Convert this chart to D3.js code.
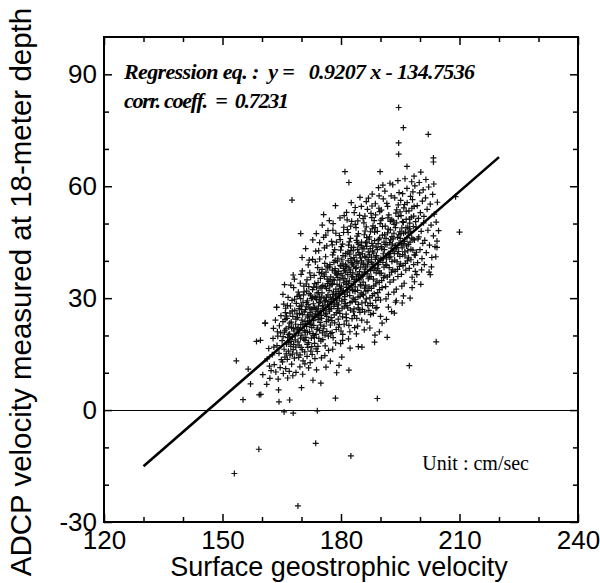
<!DOCTYPE html>
<html>
<head>
<meta charset="utf-8">
<script src="https://cdn.jsdelivr.net/npm/d3@7"></script>
<style>
  body { margin: 0; background: #fff; }
  svg { display: block; }
  .tick text { font-family: "Liberation Sans", Arial, sans-serif; font-size: 26px; fill: #000; }
  .tick line { stroke: #000; stroke-width: 1.5; }
  .domain { display: none; }
</style>
</head>
<body>
<div id="chart"></div>
<script>
// regression printed on the chart
const slope = 0.9207;
const intercept = -134.7536;
const corrCoeff = 0.7231;
const fitRange = [130, 220];

const xMajor = [120, 150, 180, 210, 240];
const yMajor = [-30, 0, 30, 60, 90];
const xMinor = [130, 140, 160, 170, 190, 200, 220, 230];
const yMinor = [-20, -10, 10, 20, 40, 50, 70, 80];

// [surface geostrophic velocity, ADCP velocity at 18 m]
const outliers = [
  [153.5,13.2],[153.0,-17.0],[159.2,-10.5],[169.1,-25.7],[173.6,-8.9],[182.5,-12.3],[189.2,3.1],[178.6,3.2],
  [197.3,11.9],[204.1,18.3],[194.6,81.1],[195.8,75.7],[194.6,71.6],[202.1,73.9],[203.4,67.6],[203.4,66.5],
  [194.6,68.6],[196.7,65.3],[200.2,63.8],[198.5,62.7],[167.6,56.3],[181.0,63.9],[182.0,61.0],[189.9,63.9],
  [209.0,57.2],[210.0,47.7],[204.3,43.6],[204.0,41.1],[202.6,36.3],[169.8,47.3],[167.9,36.2],[165.7,33.6],
  [163.7,27.5],[160.8,23.4],[159.6,18.7],[157.1,7.0],[155.2,2.8],[159.7,4.2],[164.3,2.2],[165.6,-0.5],
  [167.9,-0.8],[174.0,-0.2],[167.0,2.7],[170.0,6.0],[172.9,8.0],[174.9,7.2],[156.5,11.0],[162.0,8.5]
];

const cloudLow = [
  [158.6,18.4],[159.3,4.1],[160.2,9.5],[160.8,23.2],[161.3,13.7],[161.7,16.5],[161.9,11.8],[161.2,6.9],
  [162.3,10.6],[162.6,14.8],[162.9,21.9],[163.1,12.2],[163.4,24.1],[163.5,10.2],[163.7,27.6],[163.8,17.3],
  [164.0,19.8],[164.1,8.3],[164.3,15.2],[164.4,22.6],[164.6,11.4],[164.7,20.7],[164.9,13.5],[164.2,5.4],
  [163.0,16.9],[164.8,25.3],[163.9,21.0],[162.8,19.2],
  [165.1,18.6],[165.2,12.9],[165.3,23.7],[165.4,9.8],[165.5,28.4],[165.6,16.3],[165.7,20.9],[165.8,14.2],
  [165.9,26.1],[166.0,11.1],[166.1,21.8],[166.2,17.7],[166.3,24.6],[166.4,13.6],[166.5,19.4],[166.6,30.2],
  [166.7,15.8],[166.8,22.3],[166.9,10.4],[166.0,27.3],[165.3,31.0],[166.5,8.6],[166.2,25.2],[165.8,21.4],[166.8,18.1],
  [167.0,20.4],[167.1,14.7],[167.2,27.9],[167.3,17.1],[167.4,23.6],[167.5,12.3],[167.6,29.4],[167.7,19.6],
  [167.8,25.1],[167.9,16.2],[168.0,32.8],[168.1,21.2],[168.2,13.9],[168.3,26.7],[168.4,18.8],[168.5,23.0],
  [168.6,10.1],[168.7,28.6],[168.8,15.3],[168.9,21.7],[167.3,33.5],[168.2,35.1],[167.8,9.2],[168.6,24.4],
  [167.5,22.1],[168.9,30.5],[167.1,26.0],[168.4,19.9],[167.7,15.0],[168.0,17.6],
  [169.0,24.8],[169.1,18.3],[169.2,31.6],[169.3,14.1],[169.4,27.2],[169.5,21.5],[169.6,11.6],[169.7,34.0],
  [169.8,22.9],[169.9,16.8],[170.0,28.1],[170.1,20.1],[170.2,37.3],[170.3,25.6],[170.4,13.2],[170.5,30.9],
  [170.6,19.0],[170.7,26.3],[170.8,15.6],[170.9,23.8],[169.2,20.6],[169.8,29.9],[170.3,9.6],[170.6,33.2],
  [169.5,25.9],[170.9,18.7],[169.9,36.4],[170.1,24.1],[169.4,17.4],[170.7,21.3],[170.4,28.9],[169.6,27.8],[170.2,16.2],
  [171.0,26.9],[171.1,19.5],[171.2,33.8],[171.3,22.4],[171.4,14.4],[171.5,29.3],[171.6,24.7],[171.7,38.9],
  [171.8,18.1],[171.9,31.2],[172.0,21.0],[172.1,27.4],[172.2,12.7],[172.3,35.6],[172.4,23.3],[172.5,29.9],
  [172.6,17.0],[172.7,25.2],[172.8,40.4],[172.9,20.5],[171.2,27.7],[171.6,16.8],[171.9,25.5],[172.3,30.8],
  [172.6,22.1],[171.4,34.9],[172.0,24.0],[172.8,32.3],[171.1,23.1],[172.5,19.3],[171.7,28.3],[172.2,26.2],
  [171.5,20.8],[172.9,27.0],[171.3,31.9],[172.7,14.9],[172.1,36.8],[171.8,11.3]
];

const cloudMid = [
  [173.0,28.5],[173.1,22.7],[173.2,36.1],[173.3,17.9],[173.4,30.4],[173.5,25.8],[173.6,42.6],[173.7,20.3],
  [173.8,33.0],[173.9,27.1],[174.0,15.7],[174.1,38.2],[174.2,24.3],[174.3,31.5],[174.4,19.2],[174.5,28.8],
  [174.6,44.9],[174.7,23.5],[174.8,35.3],[174.9,26.6],[173.2,25.0],[173.6,30.1],[173.9,21.6],[174.3,27.9],
  [174.7,32.7],[173.4,13.8],[174.1,22.0],[174.5,36.9],[173.8,29.6],[174.9,18.5],[173.1,32.9],[174.0,26.4],
  [173.5,39.7],[174.4,24.9],[173.7,16.4],[174.8,29.2],[173.3,27.5],[174.2,34.2],[173.0,20.0],[174.6,21.3],
  [173.8,10.8],[174.6,40.5],
  [175.0,30.3],[175.1,24.6],[175.2,37.7],[175.3,20.7],[175.4,33.4],[175.5,27.3],[175.6,46.3],[175.7,22.5],
  [175.8,35.8],[175.9,29.0],[176.0,17.2],[176.1,41.1],[176.2,26.0],[176.3,32.6],[176.4,21.1],[176.5,38.6],
  [176.6,28.2],[176.7,48.1],[176.8,24.2],[176.9,34.5],[175.2,31.4],[175.6,26.7],[175.9,39.3],[176.3,23.7],
  [176.7,30.9],[175.4,18.9],[176.1,29.4],[176.5,35.1],[175.8,43.5],[176.9,27.6],[175.1,36.6],[176.0,33.1],
  [175.5,21.8],[176.4,44.0],[175.7,30.0],[176.8,19.8],[175.3,28.0],[176.2,37.0],[175.0,25.4],[176.6,33.9],
  [175.9,14.6],[176.4,25.1],[175.6,52.4],[176.2,11.5],
  [177.0,32.1],[177.1,26.5],[177.2,39.0],[177.3,22.8],[177.4,35.7],[177.5,29.7],[177.6,45.2],[177.7,24.0],
  [177.8,37.5],[177.9,31.0],[178.0,19.4],[178.1,42.3],[178.2,27.8],[178.3,34.8],[178.4,23.4],[178.5,40.1],
  [178.6,30.6],[178.7,47.4],[178.8,26.1],[178.9,36.2],[177.2,33.3],[177.6,28.9],[177.9,41.6],[178.3,25.5],
  [178.7,32.4],[177.4,20.5],[178.1,31.7],[178.5,37.9],[177.8,44.3],[178.9,29.5],[177.1,38.4],[178.0,35.0],
  [177.5,24.8],[178.4,43.0],[177.7,33.6],[178.8,21.6],[177.3,30.2],[178.2,39.6],[177.0,27.0],[178.6,36.7],
  [177.9,16.3],[178.4,28.4],[178.6,54.8],[177.3,13.1],[178.9,10.0],[178.0,50.0],
  [179.0,33.7],[179.1,27.2],[179.2,40.7],[179.3,24.4],[179.4,37.2],[179.5,31.3],[179.6,46.8],[179.7,25.9],
  [179.8,38.8],[179.9,32.5],[180.0,21.2],[180.1,43.8],[180.2,29.2],[180.3,36.0],[180.4,25.0],[180.5,41.4],
  [180.6,32.0],[180.7,49.0],[180.8,27.7],[180.9,37.4],[179.2,35.5],[179.6,30.0],[179.9,42.9],[180.3,27.3],
  [180.7,34.1],[179.4,22.2],[180.1,33.0],[180.5,39.2],[179.8,45.7],[180.9,31.1],[179.1,39.9],[180.0,36.6],
  [179.5,26.6],[180.4,44.5],[179.7,34.9],[180.8,23.0],[179.3,31.8],[180.2,40.3],[179.0,28.7],[180.6,38.0],
  [179.9,17.8],[180.4,18.7],[180.8,52.1],[179.5,12.0],[180.2,14.2],
  [181.0,35.2],[181.1,28.6],[181.2,42.0],[181.3,25.7],[181.4,38.5],[181.5,32.9],[181.6,48.4],[181.7,27.4],
  [181.8,40.0],[181.9,34.0],[182.0,22.7],[182.1,45.1],[182.2,30.7],[182.3,37.6],[182.4,26.8],[182.5,42.8],
  [182.6,33.4],[182.7,50.6],[182.8,29.1],[182.9,39.1],[181.2,37.0],[181.6,31.6],[181.9,44.2],[182.3,28.8],
  [182.7,35.7],[181.4,23.9],[182.1,34.6],[182.5,40.6],[181.8,47.6],[182.9,32.2],[181.1,41.3],[182.0,38.1],
  [181.5,28.0],[182.4,46.0],[181.7,36.3],[182.8,24.5],[181.3,33.7],[182.2,41.8],[181.0,30.4],[182.6,39.5],
  [181.9,19.1],[182.3,16.6],[182.6,55.6],[181.4,53.0],[182.0,10.7]
];

const cloudHigh = [
  [183.0,36.8],[183.1,30.0],[183.2,43.6],[183.3,27.1],[183.4,40.2],[183.5,34.4],[183.6,49.8],[183.7,29.0],
  [183.8,41.5],[183.9,35.4],[184.0,24.6],[184.1,46.6],[184.2,32.1],[184.3,39.4],[184.4,28.3],[184.5,44.4],
  [184.6,34.9],[184.7,52.2],[184.8,30.5],[184.9,40.8],[183.2,38.6],[183.6,33.0],[183.9,45.5],[184.3,30.3],
  [184.7,37.1],[183.4,25.3],[184.1,36.4],[184.5,42.2],[183.8,48.9],[184.9,33.6],[183.1,42.7],[184.0,39.8],
  [183.5,29.6],[184.4,47.3],[183.7,37.9],[184.8,26.2],[183.3,35.0],[184.2,43.1],[183.0,32.0],[184.6,26.9],
  [183.9,20.4],[184.4,17.0],[184.8,57.0],[183.6,54.3],[184.2,22.5],
  [185.0,38.3],[185.1,31.4],[185.2,45.0],[185.3,28.7],[185.4,41.9],[185.5,35.9],[185.6,51.3],[185.7,30.8],
  [185.8,43.2],[185.9,37.0],[186.0,26.3],[186.1,48.0],[186.2,33.5],[186.3,40.9],[186.4,29.8],[186.5,46.2],
  [186.6,36.5],[186.7,53.8],[186.8,32.0],[186.9,42.4],[185.2,40.0],[185.6,34.3],[185.9,47.0],[186.3,31.9],
  [186.7,38.9],[185.4,27.0],[186.1,37.8],[186.5,43.9],[185.8,50.2],[186.9,35.2],[185.1,44.1],[186.0,41.2],
  [185.5,31.0],[186.4,49.1],[185.7,39.4],[186.8,28.0],[185.3,36.2],[186.2,44.8],[185.0,33.3],[186.6,23.6],
  [185.9,21.5],[186.4,55.9],[185.3,16.9],
  [187.0,39.9],[187.1,33.0],[187.2,46.4],[187.3,30.1],[187.4,43.3],[187.5,37.4],[187.6,52.7],[187.7,32.6],
  [187.8,44.7],[187.9,38.4],[188.0,28.0],[188.1,49.4],[188.2,35.1],[188.3,42.1],[188.4,31.2],[188.5,47.7],
  [188.6,38.1],[188.7,55.3],[188.8,33.8],[188.9,43.7],[187.2,41.6],[187.6,35.8],[187.9,48.6],[188.3,33.3],
  [188.7,40.4],[187.4,28.6],[188.1,39.1],[188.5,45.4],[187.8,51.6],[188.9,36.8],[187.1,45.8],[188.0,42.6],
  [187.5,25.6],[188.4,50.8],[187.7,41.0],[188.8,29.4],[187.3,22.0],[188.2,25.9],[188.6,20.1],[187.9,57.9],[188.5,18.2],
  [189.0,41.4],[189.1,34.6],[189.2,47.9],[189.3,31.5],[189.4,44.6],[189.5,39.0],[189.6,54.1],[189.7,34.2],
  [189.8,46.1],[189.9,40.1],[190.0,29.5],[190.1,50.9],[190.2,36.7],[190.3,43.4],[190.4,32.8],[190.5,49.2],
  [190.6,39.6],[190.7,56.6],[190.8,35.5],[190.9,45.0],[189.2,43.0],[189.6,37.3],[189.9,50.0],[190.3,34.7],
  [190.7,41.9],[189.4,30.2],[190.1,40.6],[190.5,46.9],[189.8,53.2],[190.9,38.3],[189.1,27.5],[190.0,25.1],
  [189.5,59.6],[190.4,23.3],[189.7,21.0],[190.6,60.3],[190.2,53.6],
  [191.0,43.0],[191.1,36.0],[191.2,49.3],[191.3,33.1],[191.4,46.0],[191.5,40.5],[191.6,55.4],[191.7,35.7],
  [191.8,47.5],[191.9,41.7],[192.0,31.0],[192.1,52.3],[192.2,38.2],[192.3,44.9],[192.4,34.3],[192.5,50.6],
  [192.6,41.1],[192.7,57.4],[192.8,37.0],[192.9,46.5],[191.2,44.4],[191.6,38.8],[191.9,51.5],[192.3,36.2],
  [192.7,43.4],[191.4,29.8],[192.1,42.0],[192.5,48.3],[191.8,54.6],[192.9,39.8],[191.1,58.7],[192.0,27.6],
  [191.5,24.3],[192.4,60.8],[192.8,26.4],[191.7,19.5],
  [193.0,44.5],[193.1,37.6],[193.2,50.7],[193.3,34.9],[193.4,47.4],[193.5,42.0],[193.6,56.9],[193.7,37.2],
  [193.8,48.9],[193.9,43.2],[194.0,32.4],[194.1,53.7],[194.2,39.7],[194.3,46.3],[194.4,35.8],[194.5,51.9],
  [194.6,42.5],[194.7,58.3],[194.8,38.5],[194.9,47.8],[193.2,45.9],[193.6,40.2],[193.9,52.8],[194.3,37.7],
  [194.7,44.8],[193.4,31.6],[194.1,43.6],[194.5,55.0],[193.8,28.9],[194.9,41.2],[193.1,60.4],[194.0,29.3],
  [193.5,26.0],[194.4,61.5],
  [195.0,46.0],[195.1,39.2],[195.2,52.1],[195.3,36.4],[195.4,48.8],[195.5,43.5],[195.6,58.0],[195.7,38.7],
  [195.8,50.3],[195.9,44.6],[196.0,34.0],[196.1,55.1],[196.2,41.3],[196.3,47.7],[196.4,37.5],[196.5,53.3],
  [196.6,44.0],[196.7,59.4],[196.8,40.0],[196.9,49.0],[195.2,47.3],[195.6,41.7],[195.9,54.2],[196.3,39.3],
  [196.7,46.2],[195.4,33.2],[196.1,45.2],[196.5,51.1],[195.8,30.6],[196.9,42.7],[195.5,28.7],[196.2,62.0],[195.1,56.2],
  [197.0,47.5],[197.1,40.8],[197.2,53.4],[197.3,38.0],[197.4,50.1],[197.5,45.0],[197.6,57.3],[197.7,40.3],
  [197.8,51.7],[197.9,46.1],[198.0,35.6],[198.1,56.4],[198.2,42.9],[198.3,49.2],[198.4,39.0],[198.5,54.6],
  [198.6,45.6],[198.7,60.1],[198.8,41.5],[198.9,50.5],[197.3,48.6],[197.7,43.1],[198.0,32.8],[198.4,52.0],
  [198.8,37.2],[197.5,30.0],[198.2,58.5],[197.9,61.2],[198.6,34.4],
  [199.0,49.0],[199.1,42.3],[199.3,54.8],[199.4,39.5],[199.6,51.4],[199.7,46.4],[199.9,58.2],[200.0,43.0],
  [200.1,52.9],[200.3,47.9],[200.4,37.6],[200.6,56.0],[200.7,44.7],[200.9,50.2],[199.2,36.3],[199.8,61.0],
  [200.5,40.6],[200.2,33.7],[199.5,45.9],[200.8,59.0],
  [201.0,51.9],[201.2,45.5],[201.4,56.9],[201.6,42.2],[201.8,53.8],[202.0,48.2],[202.2,59.8],[202.4,44.2],
  [202.6,55.2],[202.8,49.6],[203.0,40.9],[203.2,57.8],[203.4,46.7],[203.6,52.5],[203.8,43.8],[204.1,50.4],
  [204.4,55.7],[204.7,48.1],[201.5,61.8],[202.9,38.4],[203.5,60.6],[204.3,45.3],[201.1,39.0],[202.3,37.0]
];

// extra marks in the dense core along the fit
const cloudCore = [
  [165.35,19.7],[165.85,24.3],[166.15,15.1],[166.45,28.0],[166.75,20.2],[167.05,23.3],[167.35,18.4],[167.65,26.5],
  [167.95,21.9],[168.25,29.7],[168.55,16.9],[168.85,25.8],[169.15,22.1],[169.45,30.8],[169.75,19.3],[170.05,26.9],
  [170.35,23.0],[170.65,31.7],[170.95,20.9],[171.25,28.8],[171.55,25.2],[171.85,33.1],[172.15,22.9],[172.45,27.1],
  [172.75,30.1],[173.05,24.0],[173.35,33.9],[173.65,27.0],[173.95,31.4],[174.25,25.6],[174.55,30.3],[174.85,22.8],
  [175.15,33.0],[175.45,27.9],[175.75,36.2],[176.05,25.7],[176.35,30.3],[176.65,38.1],[176.95,29.1],[177.25,34.6],
  [177.55,27.2],[177.85,33.9],[178.15,29.9],[178.45,37.3],[178.75,31.1],[179.05,36.4],[179.35,28.2],[179.65,33.3],
  [179.95,38.6],[180.25,31.6],[180.55,35.3],[180.85,29.6],[181.15,38.9],[181.45,34.5],[181.75,42.4],[182.05,32.4],
  [182.35,36.9],[182.65,43.6],[182.95,35.8],[183.25,40.9],[183.55,31.8],[183.85,38.2],[184.15,44.9],[184.45,36.0],
  [184.75,41.7],[185.05,35.6],[185.35,43.5],[185.65,39.0],[185.95,32.7],[186.25,38.4],[186.55,45.0],[186.85,40.3],
  [187.15,35.6],[187.45,47.8],[187.75,39.6],[188.05,44.0],[188.35,37.5],[188.65,48.9],[188.95,41.0],[189.25,38.0],
  [189.55,45.7],[189.85,36.6],[190.15,43.8],[190.45,51.4],[190.75,40.8],[191.05,47.0],[191.35,38.9],[191.65,44.3],
  [191.95,48.5],[192.25,40.9],[192.55,45.6],[192.85,51.0],[193.15,42.6],[193.45,49.8],[193.75,44.1],[194.05,50.2],
  [194.35,41.9],[194.65,47.0],[194.95,53.1],[195.25,44.3],[195.55,50.5],[195.85,47.4],[196.15,42.4],[196.45,48.9],
  [196.75,55.6],[197.05,44.4],[197.35,51.2],[197.65,47.8],[197.95,54.1],[198.25,45.8],[198.55,41.6],
  [169.65,14.8],[170.85,12.4],[171.45,17.6],[172.35,15.8],[173.25,19.5],[174.15,17.1],[175.05,14.0],[175.95,20.1],
  [176.85,16.0],[177.75,20.8],[178.65,18.0],[179.55,22.9],[180.45,20.3],[181.35,24.8],[182.25,21.0],[183.15,26.3],
  [183.45,22.1],[184.35,27.4],[185.25,24.1],[186.15,28.9],[187.05,26.7],[187.95,30.7],[188.85,27.3],[189.75,32.3],
  [170.15,40.9],[171.05,43.3],[171.95,40.2],[172.85,45.6],[173.75,47.3],[174.35,42.7],[175.25,49.6],[176.15,46.9],
  [177.05,50.8],[177.95,48.2],[178.85,45.0],[179.75,51.5],[180.65,47.6],[181.55,51.0],[182.45,49.3],[183.35,52.9],
  [184.25,50.7],[185.15,54.6],[186.05,52.0],[186.95,56.8],[187.85,54.7],[188.75,52.3],[189.65,57.4]
];

const points = outliers.concat(cloudLow, cloudMid, cloudHigh, cloudCore);

const width = 600, height = 583;
const margin = {top: 37, right: 22, bottom: 61, left: 104};
const plotW = width - margin.left - margin.right;
const plotH = height - margin.top - margin.bottom;

const svg = d3.select('#chart').append('svg')
  .attr('width', width)
  .attr('height', height);

const g = svg.append('g')
  .attr('transform', `translate(${margin.left}, ${margin.top})`);

const x = d3.scaleLinear().domain([120, 240]).range([0, plotW]);
const y = d3.scaleLinear().domain([-30, 100]).range([plotH, 0]);

// plain hyphen for negatives, as printed
const plain = d => String(d);

// inward ticks on all four sides, labels only bottom and left
g.append('g').attr('transform', `translate(0, ${plotH})`)
  .call(d3.axisBottom(x).tickValues(xMajor).tickSize(-8).tickPadding(9).tickFormat(plain));
g.append('g').attr('transform', `translate(0, ${plotH})`)
  .call(d3.axisBottom(x).tickValues(xMinor).tickSize(-5).tickFormat(''));
g.append('g')
  .call(d3.axisTop(x).tickValues(xMajor).tickSize(-8).tickFormat(''));
g.append('g')
  .call(d3.axisTop(x).tickValues(xMinor).tickSize(-5).tickFormat(''));

g.append('g')
  .call(d3.axisLeft(y).tickValues(yMajor).tickSize(-8).tickPadding(7).tickFormat(plain));
g.append('g')
  .call(d3.axisLeft(y).tickValues(yMinor).tickSize(-5).tickFormat(''));
g.append('g').attr('transform', `translate(${plotW}, 0)`)
  .call(d3.axisRight(y).tickValues(yMajor).tickSize(-8).tickFormat(''));
g.append('g').attr('transform', `translate(${plotW}, 0)`)
  .call(d3.axisRight(y).tickValues(yMinor).tickSize(-5).tickFormat(''));

// zero line
g.append('line')
  .attr('x1', 0).attr('x2', plotW)
  .attr('y1', Math.round(y(0)) + 0.5).attr('y2', Math.round(y(0)) + 0.5)
  .attr('stroke', '#000').attr('stroke-width', 1);

// scatter of '+' marks
const arm = 3;
const marks = g.append('g').attr('stroke', '#111').attr('stroke-width', 1.2);
marks.selectAll('path')
  .data(points)
  .enter()
  .append('path')
  .attr('d', d => {
    const px = x(d[0]), py = y(d[1]);
    return `M${px - arm},${py}H${px + arm}M${px},${py - arm}V${py + arm}`;
  });

// regression line
g.append('line')
  .attr('x1', x(fitRange[0])).attr('y1', y(slope * fitRange[0] + intercept))
  .attr('x2', x(fitRange[1])).attr('y2', y(slope * fitRange[1] + intercept))
  .attr('stroke', '#000').attr('stroke-width', 2.6);

// frame
g.append('rect')
  .attr('width', plotW).attr('height', plotH)
  .attr('fill', 'none').attr('stroke', '#000').attr('stroke-width', 2);

// annotations
const note = g.append('g')
  .attr('font-family', '"Liberation Serif", "Times New Roman", serif')
  .attr('font-style', 'italic').attr('font-weight', 'bold')
  .attr('font-size', 22);
note.append('text').attr('x', 20).attr('y', 42)
  .attr('xml:space', 'preserve')
  .attr('textLength', 351).attr('lengthAdjust', 'spacing')
  .text(`Regression eq. :  y =   ${slope.toFixed(4)} x - ${Math.abs(intercept).toFixed(4)}`);
note.append('text').attr('x', 20).attr('y', 71)
  .attr('xml:space', 'preserve')
  .attr('textLength', 165).attr('lengthAdjust', 'spacing')
  .text(`corr. coeff.  =  ${corrCoeff.toFixed(4)}`);

g.append('text')
  .attr('x', 425).attr('y', 433)
  .attr('text-anchor', 'end')
  .attr('font-family', '"Liberation Serif", "Times New Roman", serif')
  .attr('font-size', 20)
  .text('Unit : cm/sec');

// axis titles
svg.append('text')
  .attr('x', margin.left + plotW / 2 - 2).attr('y', 576)
  .attr('text-anchor', 'middle')
  .attr('font-family', '"Liberation Sans", Arial, sans-serif')
  .attr('font-size', 27)
  .text('Surface geostrophic velocity');

svg.append('text')
  .attr('transform', `translate(31, ${292}) rotate(-90)`)
  .attr('text-anchor', 'middle')
  .attr('font-family', '"Liberation Sans", Arial, sans-serif')
  .attr('font-size', 29.5)
  .text('ADCP velocity measured at 18-meter depth');
</script>
</body>
</html>
